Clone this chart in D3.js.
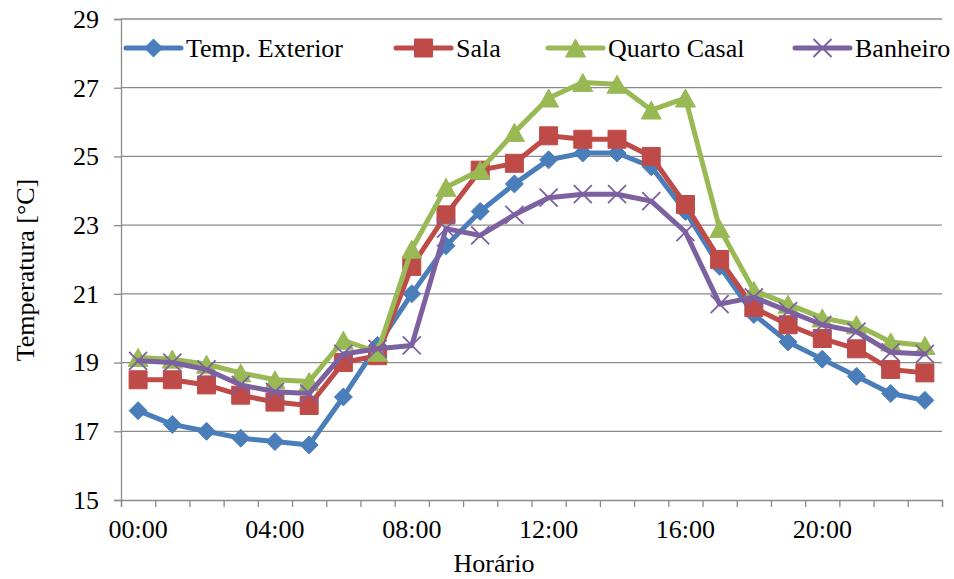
<!DOCTYPE html>
<html>
<head>
<meta charset="utf-8">
<script src="https://cdn.jsdelivr.net/npm/d3@7"></script>
<style>
  body { margin: 0; background: #fff; }
  text { font-family: "Liberation Serif", "Times New Roman", serif; fill: #000; }
</style>
</head>
<body>
<svg id="chart" width="954" height="579"></svg>
<script>
// categories (one per hour)
const hours = ["00:00","01:00","02:00","03:00","04:00","05:00","06:00","07:00",
               "08:00","09:00","10:00","11:00","12:00","13:00","14:00","15:00",
               "16:00","17:00","18:00","19:00","20:00","21:00","22:00","23:00"];
const shownLabels = ["00:00","04:00","08:00","12:00","16:00","20:00"];
const yTicks = [15, 17, 19, 21, 23, 25, 27, 29];

const tempExterior = [17.6,17.2,17.0,16.8,16.7,16.6,18.0,19.5,21.0,22.4,23.4,24.2,
                      24.9,25.1,25.1,24.7,23.4,21.8,20.4,19.6,19.1,18.6,18.1,17.9];
const sala         = [18.5,18.5,18.35,18.05,17.85,17.75,19.0,19.2,21.8,23.3,24.6,24.8,
                      25.6,25.5,25.5,25.0,23.6,22.0,20.6,20.1,19.7,19.4,18.8,18.7];
const quartoCasal  = [19.15,19.1,18.95,18.7,18.5,18.45,19.65,19.3,22.3,24.1,24.6,25.7,
                      26.7,27.15,27.1,26.35,26.7,22.9,21.1,20.7,20.3,20.1,19.6,19.5];
const banheiro     = [19.05,19.0,18.8,18.35,18.15,18.1,19.25,19.4,19.5,22.9,22.7,23.3,
                      23.8,23.9,23.9,23.7,22.8,20.7,20.9,20.5,20.1,19.9,19.3,19.25];

const series = [
  { name: "Temp. Exterior", values: tempExterior, color: "#4a7ebb", marker: "diamond", legendX: 126 },
  { name: "Sala",           values: sala,         color: "#be4b48", marker: "square",  legendX: 396 },
  { name: "Quarto Casal",   values: quartoCasal,  color: "#98b954", marker: "triangle", legendX: 548 },
  { name: "Banheiro",       values: banheiro,     color: "#7d60a0", marker: "cross",   legendX: 795 }
];

const svg = d3.select("#chart"),
      margin = { top: 19, right: 12, bottom: 79, left: 121 },
      width = +svg.attr("width"),
      height = +svg.attr("height");
const plotRight = width - margin.right, plotBottom = height - margin.bottom;

const x = d3.scaleBand().domain(hours).range([margin.left, plotRight]).padding(0);
const xEdge = d3.scaleLinear().domain([0, hours.length]).range([margin.left, plotRight]);
const y = d3.scaleLinear().domain([15, 29]).range([plotBottom, margin.top]);
const cx = h => x(h) + x.bandwidth() / 2;

// gridlines
svg.append("g")
   .selectAll("line")
   .data(yTicks.slice(1))
   .enter().append("line")
   .attr("x1", margin.left).attr("x2", plotRight)
   .attr("y1", d => y(d)).attr("y2", d => y(d))
   .attr("stroke", "#8a8a8a").attr("stroke-width", 1.3);

// y axis
const yAxis = svg.append("g")
   .attr("transform", `translate(${margin.left},0)`)
   .call(d3.axisLeft(y).tickValues(yTicks).tickSize(7).tickPadding(15));
yAxis.select(".domain").attr("stroke", "#8a8a8a").attr("stroke-width", 1.3);
yAxis.selectAll(".tick line").attr("stroke", "#8a8a8a").attr("stroke-width", 1.3);
yAxis.selectAll("text").attr("font-size", "26px").attr("fill", "#000")
     .style("font-family", "'Liberation Serif', serif");

// x axis: ticks on category edges, labels at centres
const xTickAxis = svg.append("g")
   .attr("transform", `translate(0,${plotBottom})`)
   .call(d3.axisBottom(xEdge).tickValues(d3.range(hours.length + 1)).tickSize(7).tickFormat(""));
xTickAxis.select(".domain").attr("stroke", "#8a8a8a").attr("stroke-width", 1.3);
xTickAxis.selectAll(".tick line").attr("stroke", "#8a8a8a").attr("stroke-width", 1.3);

const xLabelAxis = svg.append("g")
   .attr("transform", `translate(0,${plotBottom})`)
   .call(d3.axisBottom(x).tickValues(shownLabels).tickSize(0).tickPadding(20));
xLabelAxis.select(".domain").remove();
xLabelAxis.selectAll("text").attr("font-size", "26px").attr("fill", "#000")
     .style("font-family", "'Liberation Serif', serif");

// axis titles
svg.append("text")
   .attr("x", 494).attr("y", 572)
   .attr("text-anchor", "middle")
   .attr("font-size", "26px")
   .text("Horário");

svg.append("text")
   .attr("transform", "rotate(-90)")
   .attr("x", -270).attr("y", 34)
   .attr("text-anchor", "middle")
   .attr("font-size", "26px")
   .text("Temperatura [°C]");

// marker shapes
function markerPath(type) {
  switch (type) {
    case "diamond":  return "M0,-9L9,0L0,9L-9,0Z";
    case "square":   return "M-9,-9H9V9H-9Z";
    case "triangle": return "M0,-9L10,9L-10,9Z";
    case "cross":    return "M-9,-9L9,9M-9,9L9,-9";
  }
}
function drawMarker(g, type, color) {
  const p = g.append("path").attr("d", markerPath(type));
  if (type === "cross") p.attr("fill", "none").attr("stroke", color).attr("stroke-width", 1.8);
  else p.attr("fill", color).attr("stroke", color).attr("stroke-width", 1);
}

const line = d3.line()
  .x((d, i) => cx(hours[i]))
  .y(d => y(d));

series.forEach(s => {
  const g = svg.append("g");
  g.append("path")
   .datum(s.values)
   .attr("d", line)
   .attr("fill", "none")
   .attr("stroke", s.color)
   .attr("stroke-width", 5)
   .attr("stroke-linejoin", "round")
   .attr("stroke-linecap", "round");
  g.selectAll("g.pt")
   .data(s.values)
   .enter().append("g")
   .attr("class", "pt")
   .attr("transform", (d, i) => `translate(${cx(hours[i])},${y(d)})`)
   .each(function() { drawMarker(d3.select(this), s.marker, s.color); });
});

// legend
const legendY = 48;
series.forEach(s => {
  const lg = svg.append("g").attr("transform", `translate(${s.legendX},${legendY})`);
  lg.append("line")
    .attr("x1", 0).attr("x2", 55).attr("y1", 0).attr("y2", 0)
    .attr("stroke", s.color).attr("stroke-width", 5).attr("stroke-linecap", "round");
  const m = lg.append("g").attr("transform", "translate(27.5,0)");
  drawMarker(m, s.marker, s.color);
  lg.append("text")
    .attr("x", 60).attr("y", 9)
    .attr("font-size", "26px")
    .text(s.name);
});
</script>
</body>
</html>
